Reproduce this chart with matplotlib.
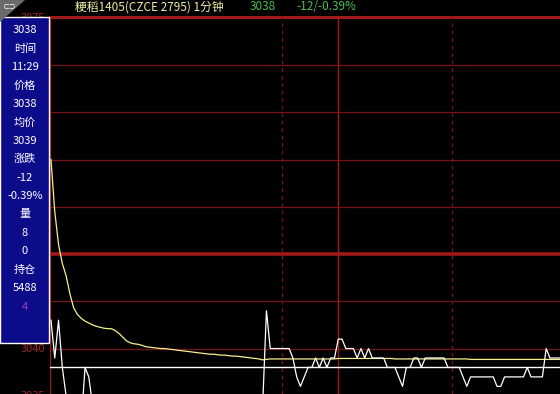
import matplotlib
matplotlib.use("Agg")
import matplotlib.pyplot as plt
from matplotlib.patches import Rectangle, Polygon
import matplotlib.transforms as mtransforms

plt.rcParams['font.family'] = ['Noto Sans CJK SC', 'DejaVu Sans']

# 1-minute prices (minute 0 = first bar); values under 3035 fall below the visible window
price = [3043, 3039, 3043, 3038, 3035, 3033, 3032, 3031, 3032, 3038,
         3037, 3034, 3032, 3031, 3031, 3030, 3031, 3032, 3031, 3030,
         3030, 3031, 3032, 3032, 3031, 3031, 3030, 3031, 3032, 3033,
         3032, 3031, 3031, 3032, 3032, 3033, 3032, 3032, 3031, 3032,
         3033, 3033, 3032, 3032, 3033, 3033, 3032, 3033, 3033, 3034,
         3033, 3033, 3034, 3033, 3033, 3033, 3034, 3044, 3040, 3040,
         3040, 3040, 3040, 3040, 3039, 3037, 3036, 3037, 3038, 3038,
         3039, 3038, 3039, 3038, 3039, 3039, 3041, 3041, 3040, 3040,
         3040, 3039, 3040, 3039, 3040, 3039, 3039, 3039, 3039, 3038,
         3038, 3038, 3037, 3036, 3038, 3038, 3039, 3039, 3038, 3039,
         3039, 3039, 3039, 3039, 3039, 3038, 3038, 3038, 3038, 3037,
         3036, 3037, 3037, 3037, 3037, 3037, 3037, 3037, 3036, 3036,
         3037, 3037, 3037, 3037, 3037, 3037, 3038, 3037, 3037, 3037,
         3037, 3040, 3039, 3039, 3039, 3039]

# average price line
avg_price = [3060.0, 3054.5, 3051.0, 3049.0, 3047.7, 3045.8, 3044.3, 3043.6, 3043.2, 3042.9,
             3042.7, 3042.5, 3042.35, 3042.25, 3042.15, 3042.1, 3042.1, 3041.9, 3041.6, 3041.2,
             3040.8, 3040.6, 3040.5, 3040.45, 3040.35, 3040.2, 3040.15, 3040.1, 3040.05, 3040.0,
             3040.0, 3039.95, 3039.9, 3039.85, 3039.8, 3039.75, 3039.7, 3039.65, 3039.6, 3039.55,
             3039.5, 3039.45, 3039.4, 3039.4, 3039.35, 3039.3, 3039.3, 3039.25, 3039.2, 3039.2,
             3039.15, 3039.1, 3039.05, 3039.0, 3038.95, 3038.9, 3038.8, 3038.85, 3038.9, 3038.9,
             3038.9, 3038.9, 3038.9, 3038.9, 3038.9, 3038.9, 3038.9, 3038.9, 3038.9, 3038.9,
             3038.9, 3038.9, 3038.9, 3038.9, 3038.9, 3038.9, 3038.95, 3038.95, 3038.95, 3038.95,
             3038.95, 3038.95, 3038.95, 3038.95, 3038.95, 3038.95, 3038.95, 3038.95, 3038.95, 3038.95,
             3038.95, 3038.9, 3038.9, 3038.9, 3038.9, 3038.9, 3038.9, 3038.9, 3038.9, 3038.9,
             3038.9, 3038.9, 3038.9, 3038.9, 3038.9, 3038.9, 3038.9, 3038.9, 3038.9, 3038.9,
             3038.9, 3038.85, 3038.85, 3038.85, 3038.85, 3038.85, 3038.85, 3038.85, 3038.85, 3038.85,
             3038.85, 3038.85, 3038.85, 3038.85, 3038.85, 3038.85, 3038.85, 3038.85, 3038.85, 3038.85,
             3038.85, 3038.85, 3038.85, 3038.85, 3038.85, 3038.85]

last_price = 3038
prev_close = 3050
price_levels = [3040, 3045, 3055, 3060, 3065, 3070]
price_labels = [3075, 3040, 3035]
session_marks = [61, 106]     # dashed time lines
session_break = [76]          # solid time line

title = "粳稻1405(CZCE 2795) 1分钟"
quote_price = "3038"
quote_change = "-12/-0.39%"
panel_lines = ["3038", "时间", "11:29", "价格", "3038", "均价", "3039", "涨跌",
               "-12", "-0.39%", "量", "8", "0", "持仓", "5488", "4"]

W, H = 560, 394
fig = plt.figure(figsize=(W / 100, H / 100), dpi=100, facecolor='black')
ax = fig.add_axes([50 / W, 0, 510 / W, 1 - 17 / H])
ax.set_facecolor('black')
ax.set_xlim(-0.26, 134.66)
ax.set_ylim(3035.19, 3075.08)
for s in ax.spines.values():
    s.set_visible(False)
ax.set_xticks([])
ax.set_yticks([])

grid_red = '#7a1414'
strong_red = '#a01a1a'
for lv in price_levels:
    ax.axhline(lv, color=grid_red, lw=0.9, zorder=1)
ax.axhline(prev_close, color=strong_red, lw=2.6, zorder=1)
ax.axhline(3075.08, color=strong_red, lw=2.2, zorder=1, clip_on=False)
for xm in session_marks:
    ax.axvline(xm, color=grid_red, lw=0.9, ls=(0, (3, 3)), zorder=1)
for xm in session_break:
    ax.axvline(xm, color=strong_red, lw=1.0, zorder=1)
ax.axvline(-0.15, color=strong_red, lw=1.0, zorder=1)

# current price line
ax.axhline(last_price, color='white', lw=1.0, zorder=2)

minutes = list(range(len(price)))
ax.plot(list(range(len(avg_price))), avg_price, color='#f4f08c', lw=0.9, zorder=3)
ax.plot(minutes, price, color='white', lw=0.9, zorder=4)

trans = mtransforms.blended_transform_factory(fig.transFigure, ax.transData)
for lb in price_labels:
    ax.text(45 / W, lb, str(lb), transform=trans, ha='right', va='center',
            color='#9a2626', fontsize=8, clip_on=False)

# blue info panel
fig.patches.append(Rectangle((0, 1 - 343 / H), 49 / W, 326 / H, transform=fig.transFigure,
                             facecolor='#0c0c8a', edgecolor='white', lw=1.0, zorder=5))
for k, t in enumerate(panel_lines):
    col = '#a040b0' if k == len(panel_lines) - 1 else 'white'
    fig.text(25 / W, 1 - (30 + 18.45 * k) / H, t, ha='center', va='center',
             color=col, fontsize=8, zorder=6)

# link corner icon
fig.patches.append(Polygon([(0, 1), (25 / W, 1), (0, 1 - 22 / H)], closed=True,
                           transform=fig.transFigure, facecolor='#6a6a6a', edgecolor='none', zorder=7))
fig.text(2 / W, 1 - 7 / H, "⊂⊃", color='white', fontsize=5, ha='left', va='center', zorder=8)

fig.text(75 / W, 1 - 7 / H, title, color='#f0eea0', fontsize=8.5, ha='left', va='center')
fig.text(250 / W, 1 - 7 / H, quote_price, color='#4cbc4c', fontsize=8.5, ha='left', va='center')
fig.text(296 / W, 1 - 7 / H, quote_change, color='#4cbc4c', fontsize=8.5, ha='left', va='center')

fig.savefig('out.png', dpi=100, facecolor='black')
